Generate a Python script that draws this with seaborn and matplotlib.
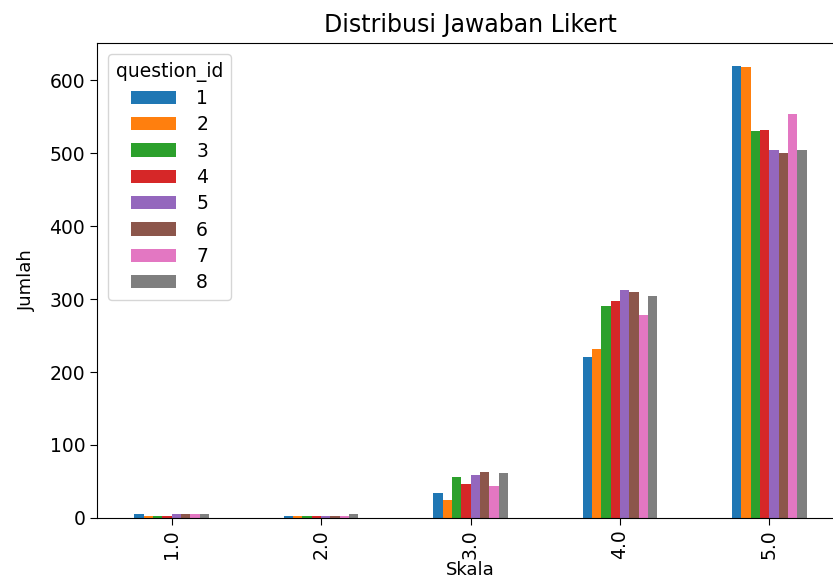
import pandas as pd
import seaborn as sns
import matplotlib.pyplot as plt

# Likert scale categories and counts per question
skala = ['1.0', '2.0', '3.0', '4.0', '5.0']
question_ids = ['1', '2', '3', '4', '5', '6', '7', '8']

q1 = [5, 3, 34, 220, 620]
q2 = [3, 2, 25, 232, 618]
q3 = [2, 2, 56, 290, 530]
q4 = [3, 2, 46, 297, 532]
q5 = [5, 2, 59, 312, 504]
q6 = [5, 2, 63, 309, 500]
q7 = [5, 2, 44, 278, 553]
q8 = [5, 5, 61, 304, 504]

counts = [q1, q2, q3, q4, q5, q6, q7, q8]

# Long format table for seaborn
rows = []
for qid, vals in zip(question_ids, counts):
    for s, v in zip(skala, vals):
        rows.append({'Skala': s, 'Jumlah': v, 'question_id': qid})
df = pd.DataFrame(rows)

fig = plt.figure(figsize=(8.33, 5.8), dpi=100)
ax = fig.add_axes([0.1164, 0.107, 0.897, 0.819])

sns.barplot(data=df, x='Skala', y='Jumlah', hue='question_id',
            order=skala, hue_order=question_ids, palette='tab10',
            width=0.5, saturation=1, linewidth=0, ax=ax)

ax.set_xlim(-0.5, 4.5)
ax.set_ylim(0, 651)
ax.set_yticks([0, 100, 200, 300, 400, 500, 600])
ax.tick_params(axis='both', labelsize=13.5, length=5)
ax.tick_params(axis='x', labelrotation=90)
ax.set_xlabel('Skala', fontsize=13, labelpad=1)
ax.set_ylabel('Jumlah', fontsize=13, labelpad=10)
ax.set_title('Distribusi Jawaban Likert', fontsize=17, pad=8)

ax.legend(title='question_id', loc='upper left', fontsize=13.5,
          title_fontsize=13.5, handlelength=2.4, handletextpad=1.1,
          labelspacing=0.39, borderpad=0.4, borderaxespad=0.6)

plt.savefig('out.png', dpi=100)
